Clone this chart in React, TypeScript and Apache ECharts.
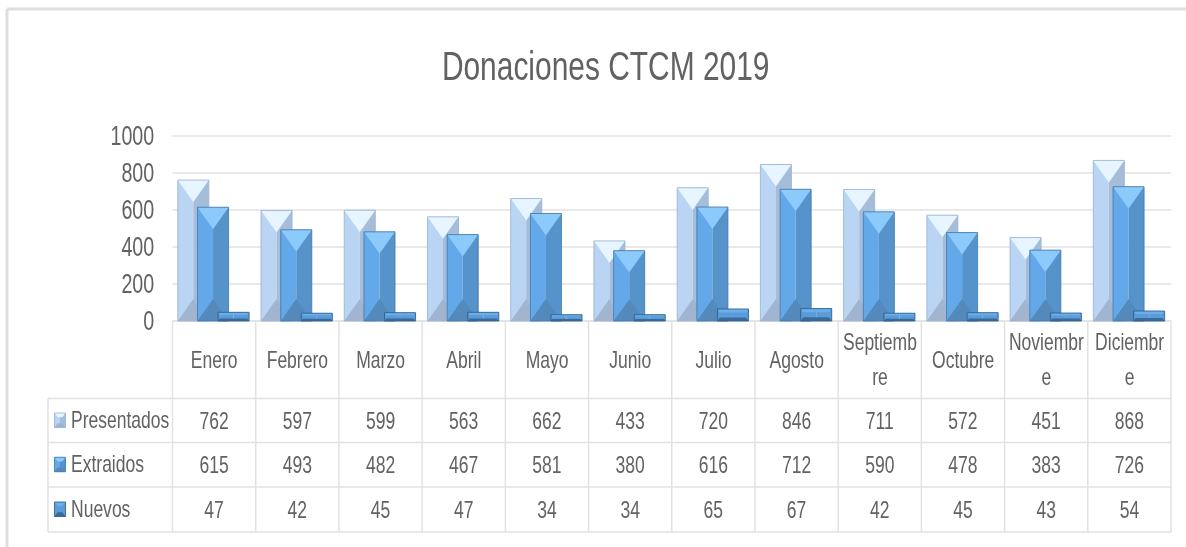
import React, { useEffect, useRef } from "react";
import * as echarts from "echarts";

const categories = ["Enero", "Febrero", "Marzo", "Abril", "Mayo", "Junio", "Julio", "Agosto", "Septiemb\nre", "Octubre", "Noviembr\ne", "Diciembr\ne"];
const presentados = [762, 597, 599, 563, 662, 433, 720, 846, 711, 572, 451, 868];
const extraidos = [615, 493, 482, 467, 581, 380, 616, 712, 590, 478, 383, 726];
const nuevos = [47, 42, 45, 47, 34, 34, 65, 67, 42, 45, 43, 54];
const seriesNames = ["Presentados", "Extraidos", "Nuevos"];
const yTicks = { min: 0, max: 1000, interval: 200 };

// The reference uses a condensed face; no condensed font is installed, so the
// whole chart is laid out wider and squeezed horizontally by this factor.
const SX = 0.73;
const W = 1186, H = 547;
const FONT = "'Liberation Sans', sans-serif";
const TEXT = "#626262";
const LINE = "#e2e2e2";
const GRID_L = 172.5, GRID_R = 1171, GRID_T = 136, GRID_B = 321;
const ROWS = [398.5, 442.5, 487, 532];
const TABLE_L = 48;

type Pal = { top: string; left: string; right: string; bottom: string; border: string };
const palettes: Pal[] = [
  { top: "#e6f5ff", left: "#bad4f4", right: "#a6bdda", bottom: "#a2b5d0", border: "#9ab4d6" },
  { top: "#8ccafc", left: "#63a8e8", right: "#5693ca", bottom: "#5389bb", border: "#447cae" },
  { top: "#6aaeea", left: "#5b9bd8", right: "#5b9bd8", bottom: "#386b9c", border: "#2f5f8a" },
];
const offsets = [-0.25, -0.013, 0.234];
const BAR_FRAC = 0.373;

function bevel(x0: number, y0: number, x1: number, y1: number, p: Pal, tMax: number) {
  const w = x1 - x0, h = y1 - y0;
  const t = Math.min(tMax, h * 0.3);
  const inset = Math.min(w / 2, t / 1.4 / SX);
  const ix0 = x0 + inset, ix1 = x1 - inset, iy0 = y0 + t, iy1 = y1 - t;
  const midX = (ix0 + ix1) / 2;
  const poly = (points: number[][], fill: string) => ({ type: "polygon", shape: { points }, style: { fill } });
  return [
    poly([[x0, y0], [midX, y0], [midX, y1], [x0, y1]], p.left),
    poly([[midX, y0], [x1, y0], [x1, y1], [midX, y1]], p.right),
    poly([[x0, y0], [x1, y0], [ix1, iy0], [ix0, iy0]], p.top),
    poly([[x0, y1], [x1, y1], [ix1, iy1], [ix0, iy1]], p.bottom),
    { type: "rect", shape: { x: x0, y: y0, width: w, height: h }, style: { fill: "none", stroke: p.border, lineWidth: 1 } },
  ];
}

function barSeries(name: string, values: number[], idx: number) {
  return {
    type: "custom",
    name,
    data: values.map((v, i) => [i, v]),
    encode: { x: 0, y: 1 },
    z: 3 + idx,
    renderItem: (_p: any, api: any) => {
      const c = api.value(0), v = api.value(1);
      const top = api.coord([c, v]);
      const base = api.coord([c, 0]);
      const band = api.size([1, 0])[0];
      const cx = top[0] + band * offsets[idx];
      const w = band * BAR_FRAC;
      return { type: "group", children: bevel(cx - w / 2, top[1], cx + w / 2, base[1], palettes[idx], 22) };
    },
  };
}

function buildTable() {
  const band = (GRID_R - GRID_L) / categories.length;
  const g: any[] = [];
  const line = (x1: number, y1: number, x2: number, y2: number, lw = 1.5, stroke = LINE) =>
    g.push({ type: "line", shape: { x1: x1 / SX, y1, x2: x2 / SX, y2 }, style: { stroke, lineWidth: lw }, silent: true });
  const vw = 1.5 / SX;
  line(7, 9, W, 9, 3, "#dedede");
  line(7, 9, 7, H, 3 / SX, "#dedede");
  for (let i = 0; i <= categories.length; i++) {
    const x = GRID_L + band * i;
    line(x, GRID_B, x, ROWS[3], vw);
  }
  line(TABLE_L, ROWS[0], TABLE_L, ROWS[3], vw);
  ROWS.forEach((y) => line(TABLE_L, y, GRID_R, y));
  const rows = [presentados, extraidos, nuevos];
  rows.forEach((vals, r) => {
    const cy = (ROWS[r] + ROWS[r + 1]) / 2;
    g.push({ type: "group", children: bevel(54.5 / SX, cy - 7.5, 65.5 / SX, cy + 7, palettes[r], 5) });
    g.push({
      type: "text", x: 71 / SX, y: cy - 1,
      style: { text: seriesNames[r], fill: TEXT, font: `24px ${FONT}`, textAlign: "left", textVerticalAlign: "middle" },
    });
    vals.forEach((v, i) => {
      g.push({
        type: "text", x: (GRID_L + band * (i + 0.5)) / SX, y: cy,
        style: { text: String(v), fill: TEXT, font: `24px ${FONT}`, textAlign: "center", textVerticalAlign: "middle" },
      });
    });
  });
  return g;
}

export default function App() {
  const ref = useRef<HTMLDivElement>(null);
  useEffect(() => {
    document.body.style.margin = "0";
    document.body.style.background = "#fff";
    const chart = echarts.init(ref.current!, undefined, { renderer: "svg" });
    chart.setOption({
      animation: false,
      backgroundColor: "#ffffff",
      title: {
        text: "Donaciones CTCM 2019",
        left: 602 / SX, top: 41, textAlign: "center",
        textStyle: { fontFamily: FONT, fontSize: 41, fontWeight: "normal", color: TEXT },
      },
      grid: { left: GRID_L / SX, right: (W - GRID_R) / SX, top: GRID_T, height: GRID_B - GRID_T },
      xAxis: {
        type: "category",
        data: categories,
        axisTick: { show: false },
        axisLine: { show: true, lineStyle: { color: LINE, width: 1.5 } },
        axisLabel: {
          interval: 0, margin: 38, color: TEXT, fontFamily: FONT, fontSize: 24,
          lineHeight: 35, verticalAlign: "middle", align: "center",
        },
      },
      yAxis: {
        type: "value",
        ...yTicks,
        axisLine: { show: false },
        axisTick: { show: false },
        splitLine: { show: true, lineStyle: { color: LINE, width: 1.5 } },
        axisLabel: { margin: 25, color: TEXT, fontFamily: FONT, fontSize: 27, formatter: (v: number) => String(v) },
      },
      graphic: { elements: buildTable() },
      series: [
        barSeries(seriesNames[0], presentados, 0),
        barSeries(seriesNames[1], extraidos, 1),
        barSeries(seriesNames[2], nuevos, 2),
      ],
    });
    return () => chart.dispose();
  }, []);
  return (
    <div style={{ position: "absolute", left: 0, top: 0, width: W, height: H, overflow: "hidden" }}>
      <div
        ref={ref}
        style={{ width: W / SX, height: H, transform: `scaleX(${SX})`, transformOrigin: "0 0", filter: "blur(0.45px)" }}
      />
    </div>
  );
}
